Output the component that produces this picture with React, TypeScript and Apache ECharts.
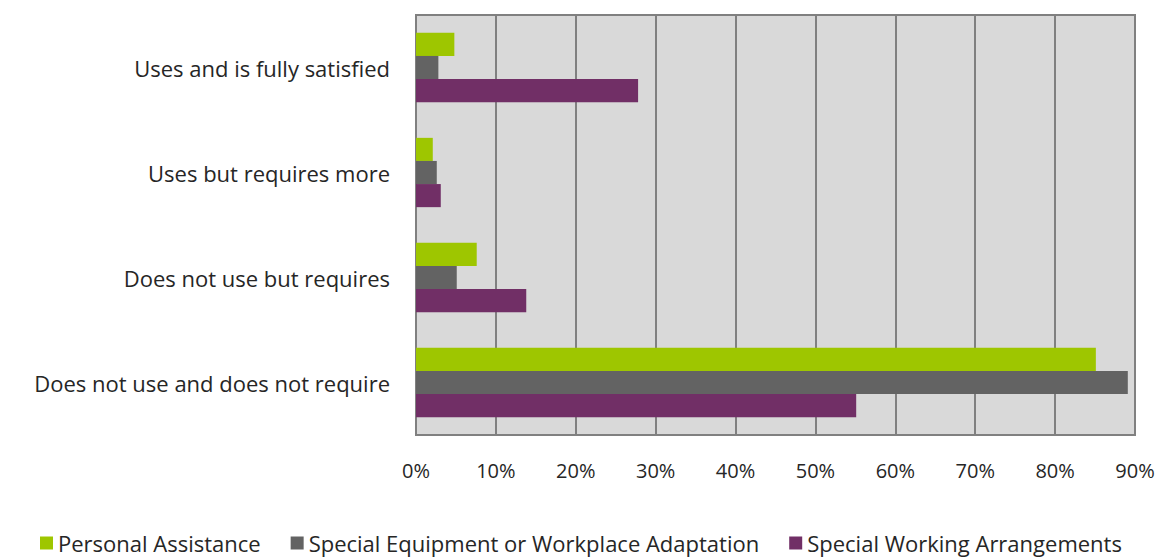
import React, { useEffect, useRef } from "react";
import * as echarts from "echarts";

const categories = [
  "Uses and is fully satisfied",
  "Uses but requires more",
  "Does not use but requires",
  "Does not use and does not require",
];
const personalAssistance = [4.8, 2.1, 7.6, 85.1];
const specialEquipment = [2.8, 2.6, 5.1, 89.1];
const specialArrangements = [27.8, 3.1, 13.8, 55.1];
const seriesNames = [
  "Personal Assistance",
  "Special Equipment or Workplace Adaptation",
  "Special Working Arrangements",
];
const colors = ["#9ec600", "#636363", "#712f66"];

export default function App() {
  const ref = useRef<HTMLDivElement>(null);
  useEffect(() => {
    const chart = echarts.init(ref.current!, null, { renderer: "svg" });
    const font = "Open Sans";
    const data = [personalAssistance, specialEquipment, specialArrangements];
    chart.setOption({
      animation: false,
      grid: { left: 416, right: 28, top: 15, bottom: 122, containLabel: false, show: true, backgroundColor: "#d9d9d9", borderColor: "#808080", borderWidth: 2 },
      legend: {
        bottom: 2,
        left: 40,
        padding: [0, 0, 0, 0],
        icon: "rect",
        itemWidth: 13,
        itemHeight: 13,
        itemGap: 30,
        textStyle: { fontFamily: font, fontSize: 22, lineHeight: 24, color: "#262626" },
        data: seriesNames,
      },
      xAxis: {
        type: "value",
        min: 0,
        max: 90,
        interval: 10,
        axisLine: { show: false },
        axisTick: { show: false },
        splitLine: { show: true, lineStyle: { color: "#808080", width: 2 } },
        axisLabel: { formatter: "{value}%", margin: 25, fontFamily: font, fontSize: 20, color: "#262626" },
      },
      yAxis: {
        type: "category",
        inverse: true,
        data: categories,
        axisLine: { show: false },
        axisTick: { show: false },
        axisLabel: { margin: 26, fontFamily: font, fontSize: 22, color: "#262626" },
      },
      series: data.map((d, i) => ({
        type: "bar",
        name: seriesNames[i],
        data: d,
        barGap: "0%",
        barCategoryGap: "34%",
        itemStyle: { color: colors[i] },
      })),
    });
    return () => chart.dispose();
  }, []);
  return <div ref={ref} style={{ position: "absolute", left: 0, top: 0, width: 1163, height: 557 }} />;
}
